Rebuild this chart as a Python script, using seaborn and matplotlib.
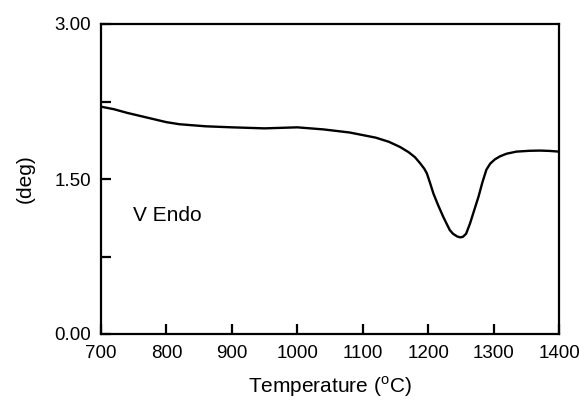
import matplotlib
matplotlib.use("Agg")
import matplotlib.pyplot as plt
from matplotlib.ticker import MultipleLocator
import seaborn as sns
import pandas as pd

# values
temperature = [700, 720, 740, 760, 780, 800, 820, 840, 860, 900, 950, 1000,
               1040, 1080, 1120, 1140, 1157, 1170, 1180, 1188, 1194, 1198,
               1203, 1208, 1215, 1223, 1228, 1233, 1238, 1244, 1249, 1253,
               1258, 1264, 1270, 1277, 1283, 1289, 1295, 1302, 1310, 1320,
               1335, 1355, 1371, 1385, 1400]
deg = [2.20, 2.175, 2.14, 2.11, 2.08, 2.05, 2.03, 2.02, 2.01, 2.00, 1.99, 2.00,
       1.98, 1.95, 1.90, 1.86, 1.81, 1.76, 1.71, 1.65, 1.60, 1.555,
       1.46, 1.36, 1.25, 1.135, 1.07, 1.006, 0.97, 0.945, 0.935, 0.94,
       0.97, 1.07, 1.19, 1.33, 1.47, 1.59, 1.65, 1.69, 1.72, 1.745,
       1.765, 1.773, 1.775, 1.772, 1.765]

x_ticks = [700, 800, 900, 1000, 1100, 1200, 1300, 1400]
y_ticks = [0.00, 1.50, 3.00]

df = pd.DataFrame({"temperature": temperature, "deg": deg})

sns.set_style("ticks")
plt.rcParams["font.family"] = ["Liberation Sans", "DejaVu Sans"]
plt.rcParams["mathtext.fontset"] = "custom"
plt.rcParams["mathtext.rm"] = "Liberation Sans"

fig = plt.figure(figsize=(5.79, 4.00), dpi=100)
ax = fig.add_axes([0.1744, 0.165, 0.7911, 0.775])

sns.lineplot(data=df, x="temperature", y="deg", color="black",
             linewidth=1.7, ax=ax)

ax.set_xlim(700, 1400)
ax.set_ylim(0, 3.0)
ax.set_xticks(x_ticks)
ax.set_yticks(y_ticks)
ax.set_yticklabels([f"{v:.2f}" for v in y_ticks])
ax.yaxis.set_minor_locator(MultipleLocator(0.75))

ax.tick_params(axis="both", which="major", direction="in", length=7,
               width=1.6, color="black", labelcolor="black",
               labelsize=13.5, pad=8)
ax.tick_params(axis="y", which="minor", direction="in", length=7,
               width=1.6, color="black")
ax.tick_params(axis="y", which="major", pad=7)

for sp in ax.spines.values():
    sp.set_visible(True)
    sp.set_linewidth(1.6)
    sp.set_color("black")

ax.set_xlabel("Temperature ($^{\\rm o}$C)", fontsize=15, labelpad=9,
              color="black")
ax.set_ylabel("(deg)", fontsize=15, labelpad=14, color="black")

ax.text(749, 1.15, "V Endo", fontsize=15, va="center", ha="left",
        color="black")

fig.savefig("out.png", dpi=100)
